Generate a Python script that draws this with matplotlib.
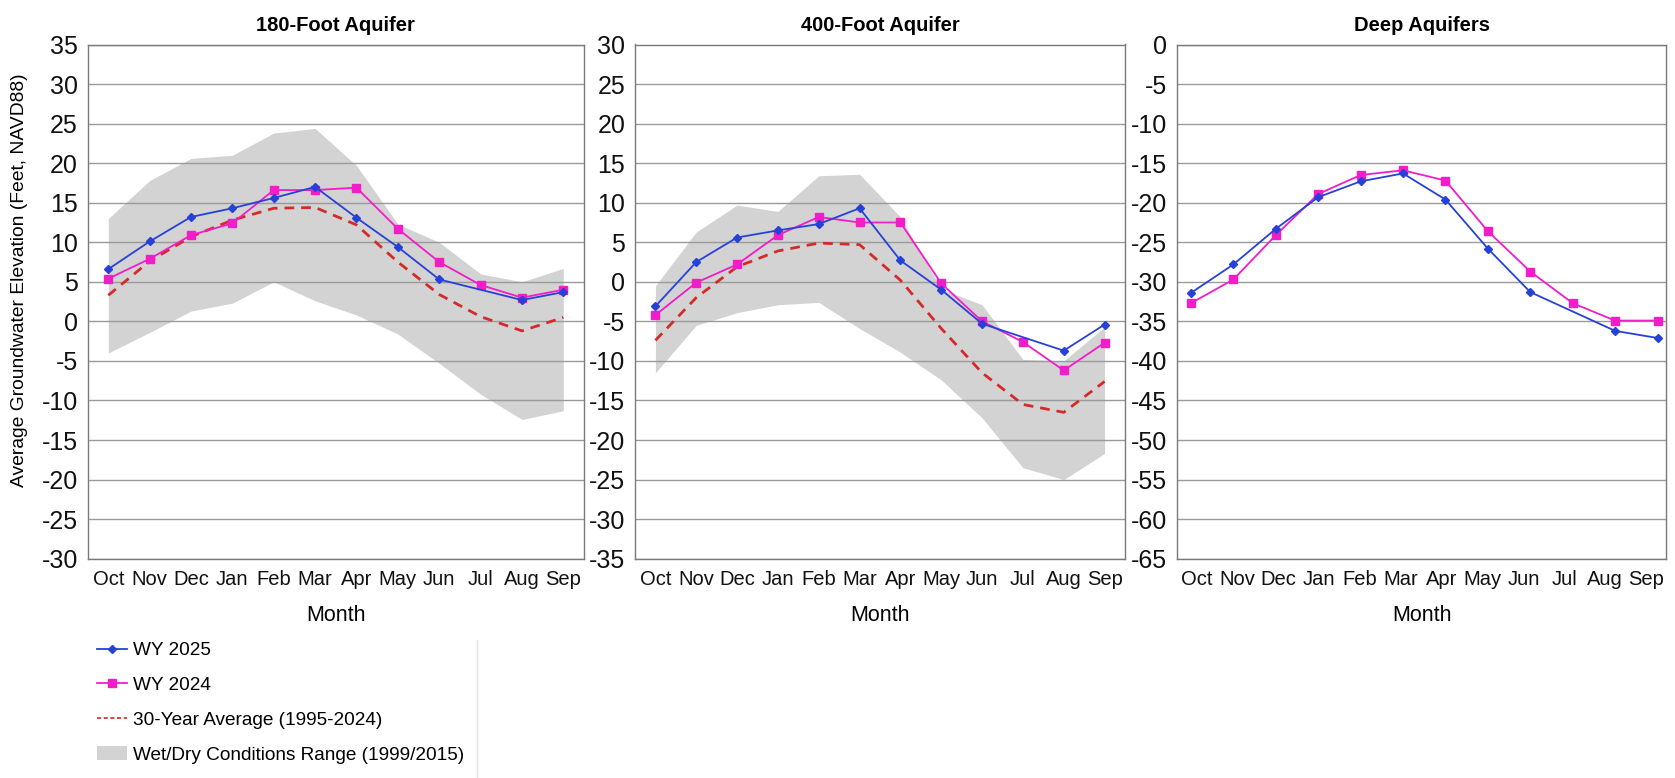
import numpy as np
import matplotlib
matplotlib.use("Agg")
import matplotlib.pyplot as plt
from matplotlib.lines import Line2D
from matplotlib.patches import Patch

plt.rcParams['font.family'] = ['Liberation Sans', 'DejaVu Sans']
plt.rcParams['axes.unicode_minus'] = False

months = ["Oct", "Nov", "Dec", "Jan", "Feb", "Mar", "Apr", "May", "Jun", "Jul", "Aug", "Sep"]
titles = ["180-Foot Aquifer", "400-Foot Aquifer", "Deep Aquifers"]

# 180-Foot Aquifer
wy2025_180 = [6.6, 10.1, 13.2, 14.3, 15.6, 17.0, 13.1, 9.4, 5.3, np.nan, 2.7, 3.7]
wy2024_180 = [5.4, 7.9, 10.9, 12.4, 16.6, 16.6, 16.9, 11.7, 7.5, 4.6, 3.0, 4.0]
avg30_180 = [3.3, 7.6, 10.7, 12.8, 14.3, 14.4, 12.2, 7.5, 3.4, 0.6, -1.2, 0.5]
band_hi_180 = [13.0, 17.8, 20.6, 21.0, 23.8, 24.4, 19.7, 12.3, 10.0, 6.0, 5.0, 6.7]
band_lo_180 = [-4.0, -1.4, 1.3, 2.3, 5.0, 2.6, 0.8, -1.6, -5.3, -9.2, -12.4, -11.3]

# 400-Foot Aquifer
wy2025_400 = [-3.1, 2.5, 5.6, 6.5, 7.3, 9.3, 2.7, -1.0, -5.3, np.nan, -8.7, -5.4]
wy2024_400 = [-4.2, -0.1, 2.2, 5.9, 8.2, 7.5, 7.5, -0.2, -5.0, -7.6, -11.2, -7.7]
avg30_400 = [-7.4, -2.0, 1.9, 3.9, 4.9, 4.7, 0.2, -5.9, -11.5, -15.5, -16.5, -12.6]
band_hi_400 = [-0.5, 6.3, 9.7, 8.9, 13.4, 13.6, 8.2, -0.9, -2.9, -9.8, -10.0, -5.7]
band_lo_400 = [-11.5, -5.5, -3.9, -2.9, -2.6, -5.9, -8.9, -12.4, -17.2, -23.5, -25.0, -21.7]

# Deep Aquifers
wy2025_deep = [-31.4, -27.8, -23.3, -19.3, -17.3, -16.3, -19.6, -25.8, -31.3, np.nan, -36.2, -37.1]
wy2024_deep = [-32.7, -29.7, -24.1, -18.9, -16.5, -15.9, -17.2, -23.6, -28.7, -32.7, -34.9, -34.9]

ylims = [(-30, 35), (-35, 30), (-65, 0)]

BLUE = '#2741d8'
MAG = '#f21cc8'
RED = '#d42a2a'
GRAY = '#d3d3d3'

fig = plt.figure(figsize=(16.75, 7.78), dpi=100)
W, H = 1675, 778
boxes = [(87.6, 584.0), (635.0, 1125.0), (1177.0, 1666.0)]
top_px, bot_px = 44.5, 558.7
xlims = [(-0.5, 11.5), (-0.5, 11.5), (-0.33, 11.2)]

series = [
    (wy2025_180, wy2024_180, avg30_180, band_lo_180, band_hi_180),
    (wy2025_400, wy2024_400, avg30_400, band_lo_400, band_hi_400),
    (wy2025_deep, wy2024_deep, None, None, None),
]

x = np.arange(len(months))
# label placement for the Deep Aquifers panel (its category labels sit slightly inside the points)
tick_pos = [x, x, np.linspace(0.13, 10.73, len(months))]

axes = []
for i, ((l, r), (s25, s24, avg, lo, hi)) in enumerate(zip(boxes, series)):
    ax = fig.add_axes([l / W, 1 - bot_px / H, (r - l) / W, (bot_px - top_px) / H])
    axes.append(ax)
    ax.set_axisbelow(True)
    if lo is not None:
        ax.fill_between(x, lo, hi, color=GRAY, linewidth=0, zorder=0.2)
    if avg is not None:
        ax.plot(x, avg, color=RED, lw=2.0, ls=(0, (3.5, 2.5)), zorder=3)
    a24 = np.array(s24, dtype=float)
    m24 = np.isfinite(a24)
    ax.plot(x[m24], a24[m24], color=MAG, lw=1.3, marker='s', ms=5.5, zorder=4)
    a25 = np.array(s25, dtype=float)
    m25 = np.isfinite(a25)
    ax.plot(x[m25], a25[m25], color=BLUE, lw=1.3, marker='D', ms=4.5, zorder=5)

    ylo, yhi = ylims[i]
    ax.set_ylim(ylo, yhi)
    ax.set_yticks(np.arange(ylo, yhi + 1, 5))
    ax.set_xlim(*xlims[i])
    ax.set_xticks(tick_pos[i])
    ax.set_xticklabels(months)
    ax.yaxis.grid(True, color='#9a9a9a', lw=1.0)
    ax.tick_params(axis='both', length=0, colors='#111111')
    ax.tick_params(axis='y', pad=7, labelsize=18)
    ax.tick_params(axis='x', pad=8, labelsize=14.5)
    for sp in ax.spines.values():
        sp.set_color('#7a7a7a')
        sp.set_linewidth(1.0)
    ax.set_title(titles[i], fontsize=14.5, fontweight='bold', pad=10)
    ax.set_xlabel("Month", fontsize=15.5, labelpad=12)

fig.text(20 / W, 1 - 280 / H, "Average Groundwater Elevation (Feet, NAVD88)",
         rotation=90, ha='center', va='center', fontsize=13.9)

handles = [
    Line2D([], [], color=BLUE, lw=1.3, marker='D', ms=4.5),
    Line2D([], [], color=MAG, lw=1.3, marker='s', ms=5.5),
    Line2D([], [], color=RED, lw=1.2, ls=(0, (2.5, 1.5))),
    Patch(facecolor=GRAY, edgecolor='none'),
]
labels = ["WY 2025", "WY 2024", "30-Year Average (1995-2024)", "Wet/Dry Conditions Range (1999/2015)"]
fig.legend(handles, labels, loc='upper left', bbox_to_anchor=(97 / W, 1 - 642 / H),
           frameon=False, fontsize=13.7, handlelength=1.6, handletextpad=0.3,
           labelspacing=0.92, borderpad=0.0, borderaxespad=0.0)

fig.add_artist(Line2D([477 / W, 477 / W], [0, 1 - 640 / H], transform=fig.transFigure,
                      color='#e4e4e4', lw=1.0))

fig.savefig("out.png", dpi=100)
